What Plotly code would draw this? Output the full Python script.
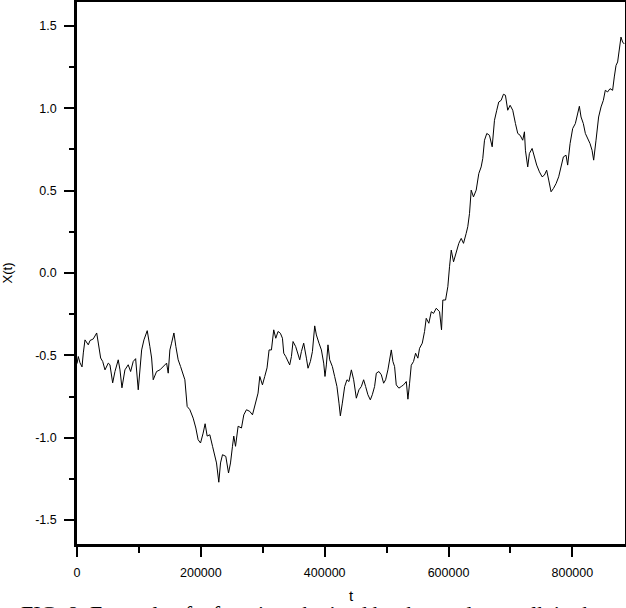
import plotly.graph_objects as go

# random walk X(t)
t = [0, 2100, 4800, 8100, 10200, 12900, 18200, 21000, 26300, 31800, 34400, 38200, 41500,
     45200, 50500, 53200, 57600, 61300, 66600, 69400, 72600, 77400, 82700, 86600, 90800,
     94700, 98900, 101600, 104400, 108100, 113400, 117700, 120500, 123100, 128500, 133900,
     139200, 144700, 147300, 150000, 152700, 156500, 159700, 163400, 167300, 171400, 174200,
     177900, 182300, 187600, 191900, 195600, 199500, 203700, 206900, 210200, 214500, 218900,
     222600, 225300, 229000, 231800, 235000, 240300, 244700, 247900, 251100, 253200, 256000,
     260200, 265600, 269400, 273700, 279000, 283400, 288700, 292400, 295200, 299500, 303200,
     306900, 310200, 314000, 317700, 321000, 324700, 328500, 331800, 333900, 337100, 340800,
     343500, 346300, 348900, 353200, 356900, 359700, 362400, 366100, 370500, 373100, 376900,
     380200, 383900, 386600, 390800, 394700, 398400, 400500, 402700, 405300, 408100, 412400,
     416100, 419800, 423100, 425300, 428500, 432300, 436000, 439200, 443100, 446800, 451100,
     455300, 459200, 462900, 466100, 469800, 473700, 476900, 480600, 483400, 487600, 491500,
     495200, 498400, 502100, 504800, 507600, 510200, 512900, 515600, 519800, 523700, 527400,
     531800, 534400, 537100, 539800, 543500, 546800, 550500, 553200, 557600, 561300, 564000,
     568200, 572100, 575800, 580200, 585500, 588700, 590800, 595200, 598900, 601600, 604400,
     608100, 612400, 616600, 620500, 624200, 628500, 631100, 633900, 636600, 640300, 644700,
     648900, 652700, 655300, 658100, 661800, 666100, 670500, 674200, 677900, 681100, 685000,
     688700, 691900, 695600, 699500, 703700, 708100, 711800, 715600, 719800, 722600, 724200,
     727900, 730600, 735000, 738700, 742400, 746800, 751100, 754800, 758500, 761800, 765600,
     769400, 773700, 777900, 781800, 785500, 789800, 792400, 796300, 800500, 804800, 808500,
     811300, 814000, 817700, 821000, 824700, 828500, 831800, 834400, 838200, 842400, 846300,
     850000, 853200, 856900, 860800, 865000, 867700, 870500, 873100, 875800, 878500, 881100,
     883900]
x = [-0.55, -0.507, -0.545, -0.57, -0.485, -0.406, -0.436, -0.41, -0.40, -0.364, -0.425,
     -0.516, -0.537, -0.588, -0.547, -0.557, -0.667, -0.598, -0.527, -0.588, -0.697, -0.588,
     -0.557, -0.598, -0.537, -0.52, -0.709, -0.598, -0.467, -0.406, -0.35, -0.447, -0.516,
     -0.648, -0.598, -0.588, -0.568, -0.547, -0.608, -0.467, -0.426, -0.364, -0.447, -0.527,
     -0.568, -0.618, -0.648, -0.81, -0.83, -0.881, -0.941, -1.012, -1.032, -0.972, -0.915,
     -0.99, -0.982, -1.052, -1.103, -1.153, -1.27, -1.153, -1.103, -1.113, -1.214, -1.153,
     -1.052, -0.99, -1.052, -0.93, -0.941, -0.861, -0.83, -0.84, -0.861, -0.79, -0.729,
     -0.628, -0.679, -0.628, -0.576, -0.467, -0.467, -0.345, -0.396, -0.355, -0.366, -0.396,
     -0.487, -0.507, -0.537, -0.558, -0.507, -0.416, -0.447, -0.497, -0.527, -0.477, -0.426,
     -0.517, -0.578, -0.537, -0.477, -0.321, -0.376, -0.426, -0.467, -0.547, -0.628, -0.558,
     -0.436, -0.527, -0.568, -0.628, -0.689, -0.79, -0.867, -0.79, -0.689, -0.648, -0.659,
     -0.588, -0.648, -0.76, -0.709, -0.689, -0.648, -0.689, -0.739, -0.77, -0.739, -0.689,
     -0.608, -0.598, -0.618, -0.669, -0.648, -0.588, -0.537, -0.467, -0.537, -0.568, -0.679,
     -0.699, -0.689, -0.679, -0.659, -0.766, -0.669, -0.56, -0.537, -0.487, -0.517, -0.457,
     -0.426, -0.355, -0.275, -0.305, -0.235, -0.245, -0.214, -0.235, -0.345, -0.164, -0.164,
     -0.083, 0.038, 0.139, 0.068, 0.119, 0.18, 0.21, 0.18, 0.24, 0.281, 0.362, 0.503, 0.462,
     0.503, 0.604, 0.644, 0.695, 0.806, 0.847, 0.836, 0.766, 0.927, 0.988, 1.038, 1.048,
     1.085, 1.079, 0.988, 1.018, 0.988, 0.907, 0.847, 0.836, 0.806, 0.857, 0.745, 0.644,
     0.725, 0.756, 0.705, 0.655, 0.614, 0.584, 0.594, 0.624, 0.564, 0.493, 0.513, 0.543,
     0.584, 0.655, 0.705, 0.715, 0.655, 0.786, 0.877, 0.907, 0.968, 1.012, 0.947, 0.907,
     0.847, 0.816, 0.786, 0.745, 0.685, 0.806, 0.947, 1.008, 1.048, 1.109, 1.099, 1.119,
     1.109, 1.19, 1.26, 1.281, 1.352, 1.432, 1.402, 1.39]

xticks = [0, 200000, 400000, 600000, 800000]
xlabels = ["0", "200000", "400000", "600000", "800000"]
yticks = [-1.5, -1.0, -0.5, 0.0, 0.5, 1.0, 1.5]
ylabels = ["-1.5", "-1.0", "-0.5", "0.0", "0.5", "1.0", "1.5"]
caption = "FIG. 8: Example of a function obtained by the random walk in the constant"

fig = go.Figure(go.Scatter(x=t, y=x, mode="lines",
                           line=dict(color="black", width=1)))

axis_font = dict(family="Liberation Sans, Arial, sans-serif", size=12.5, color="black")

fig.update_layout(
    width=626, height=608,
    margin=dict(l=77, r=1, t=2, b=64, autoexpand=False),
    paper_bgcolor="white", plot_bgcolor="white",
    showlegend=False,
    font=axis_font,
    xaxis=dict(
        range=[0, 885000], tickvals=xticks, ticktext=xlabels,
        ticks="outside", ticklen=10, tickwidth=2, tickcolor="black",
        minor=dict(ticks="outside", ticklen=6, tickwidth=2, tickcolor="black", dtick=100000),
        showline=True, linewidth=2.5, linecolor="black", mirror=True,
        showgrid=False, zeroline=False, ticklabelstandoff=5,
        title=dict(text="t", font=dict(size=15), standoff=12),
    ),
    yaxis=dict(
        range=[-1.645, 1.645], tickvals=yticks, ticktext=ylabels,
        ticks="outside", ticklen=10, tickwidth=2, tickcolor="black",
        minor=dict(ticks="outside", ticklen=5, tickwidth=2, tickcolor="black", dtick=0.25),
        showline=True, linewidth=2.5, linecolor="black", mirror=True,
        showgrid=False, zeroline=False, ticklabelstandoff=5,
        title=dict(text="X(t)", font=dict(size=13), standoff=22),
    ),
    annotations=[dict(
        text=caption, xref="paper", yref="paper", x=-0.105, y=-0.102,
        xanchor="left", yanchor="top", showarrow=False,
        font=dict(family="Liberation Serif, Times New Roman, serif", size=22, color="black"),
    )],
)

# drop the browser's default page margin so the figure sits at the window corner
fig.write_html("out.html", config={"displayModeBar": False},
               post_script="document.body.style.margin='0';document.body.style.overflow='hidden';")
